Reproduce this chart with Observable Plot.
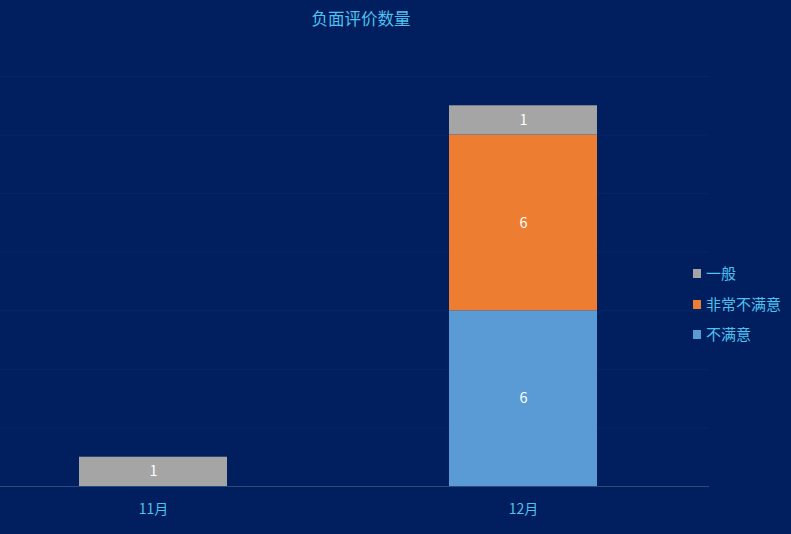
<!DOCTYPE html>
<html>
<head>
<meta charset="utf-8">
<script src="https://cdn.jsdelivr.net/npm/d3@7"></script>
<script src="https://cdn.jsdelivr.net/npm/@observablehq/plot@0.6"></script>
<style>
  html, body { margin: 0; padding: 0; background: #011f5e; overflow: hidden; }
  #wrap { position: relative; width: 791px; height: 534px; font-family: "Noto Sans CJK SC", "Noto Sans", sans-serif; }
  #title { position: absolute; left: 0; width: 722px; top: 6px; text-align: center; color: #4fc1f0; font-size: 16.5px; }
  #legend { position: absolute; left: 693px; top: 262px; color: #4fc1f0; font-size: 15px; }
  .item { height: 30.5px; display: flex; align-items: flex-start; }
  .sw { width: 8px; height: 9px; margin-top: 7px; margin-right: 5px; }
  svg { position: absolute; left: 0; top: 0; }
</style>
</head>
<body>
<div id="wrap">
  <div id="title">负面评价数量</div>
  <div id="legend"></div>
</div>
<script>
const months = ["11月", "12月"];
const seriesNames = ["不满意", "非常不满意", "一般"];
const values不满意 = [0, 6];
const values非常不满意 = [0, 6];
const values一般 = [1, 1];
const seriesColors = ["#5b9bd5", "#ed7d31", "#a5a5a5"];
const legendOrder = ["一般", "非常不满意", "不满意"];
const yTicks = [2, 4, 6, 8, 10, 12, 14];

const seriesValues = [values不满意, values非常不满意, values一般];
const rows = [];
seriesNames.forEach((s, i) => {
  months.forEach((m, j) => {
    if (seriesValues[i][j] > 0) rows.push({month: m, series: s, value: seriesValues[i][j]});
  });
});

const chart = Plot.plot({
  width: 791,
  height: 534,
  marginLeft: 0,
  marginRight: 82,
  marginTop: 76,
  marginBottom: 48,
  style: {background: "transparent", fontFamily: "'Noto Sans CJK SC', sans-serif"},
  x: {domain: months, range: [-32, 708], paddingInner: 0.6, paddingOuter: 0.3, axis: null},
  y: {domain: [0, 14], axis: null},
  color: {domain: seriesNames, range: seriesColors},
  marks: [
    Plot.ruleY(yTicks, {stroke: "#072666", strokeWidth: 1}),
    Plot.barY(rows, Plot.stackY({x: "month", y: "value", fill: "series", order: seriesNames})),
    Plot.text(rows, Plot.stackY({x: "month", y: "value", z: "series", order: seriesNames, text: d => String(d.value), fill: "white", fontSize: 14.5})),
    Plot.ruleY([0], {stroke: "#2d4b7c", strokeWidth: 1}),
    Plot.axisX({domain: months, label: null, tickSize: 0, tickPadding: 18, fill: "#4fc1f0", fontSize: 14, fontFamily: "'Noto Sans CJK SC', sans-serif"})
  ]
});
document.getElementById("wrap").appendChild(chart);

const legend = document.getElementById("legend");
legendOrder.forEach(name => {
  const item = document.createElement("div");
  item.className = "item";
  const sw = document.createElement("div");
  sw.className = "sw";
  sw.style.background = seriesColors[seriesNames.indexOf(name)];
  const label = document.createElement("span");
  label.textContent = name;
  item.appendChild(sw);
  item.appendChild(label);
  legend.appendChild(item);
});
</script>
</body>
</html>
